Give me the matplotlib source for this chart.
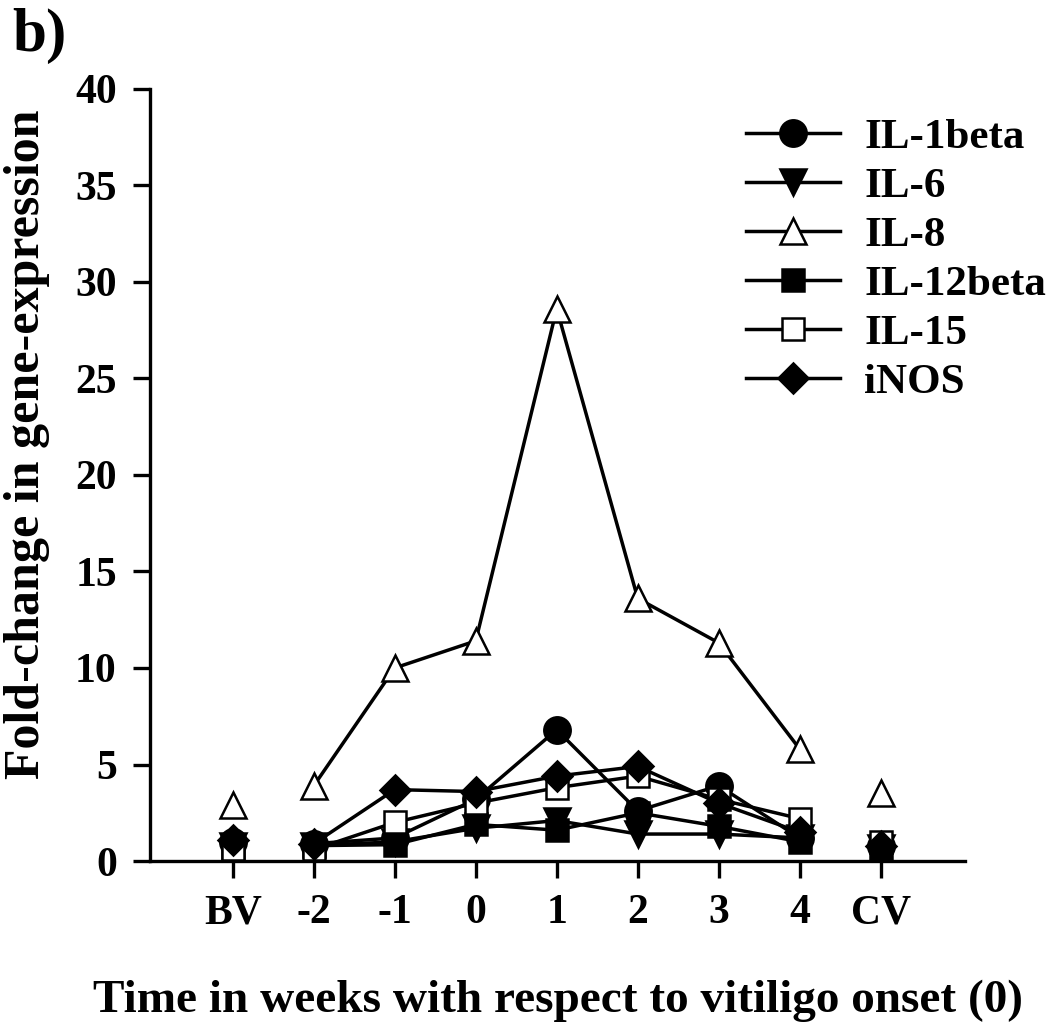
import matplotlib.pyplot as plt
import numpy as np

plt.rcParams['font.family'] = 'Liberation Serif'
plt.rcParams['font.weight'] = 'bold'

categories = ['BV', '-2', '-1', '0', '1', '2', '3', '4', 'CV']

il1beta = [1.0, 0.9, 1.2, 3.2, 6.8, 2.6, 3.9, 1.2, 0.8]
il6 = [0.8, 0.8, 1.0, 1.7, 2.1, 1.4, 1.4, 1.2, 0.7]
il8 = [2.9, 3.9, 10.0, 11.4, 28.6, 13.6, 11.3, 5.8, 3.5]
il12beta = [0.3, 0.8, 0.85, 1.9, 1.6, 2.5, 1.8, 1.0, 0.7]
il15 = [0.6, 0.6, 2.0, 3.0, 3.8, 4.4, 3.2, 2.2, 1.0]
inos = [1.1, 0.9, 3.7, 3.6, 4.4, 4.9, 3.0, 1.5, 0.8]

series = [
    ('IL-1beta', il1beta, 'o', 'black', 19),
    ('IL-6', il6, 'v', 'black', 19),
    ('IL-8', il8, '^', 'white', 19),
    ('IL-12beta', il12beta, 's', 'black', 16),
    ('IL-15', il15, 's', 'white', 16),
    ('iNOS', inos, 'D', 'black', 15),
]

x = np.arange(len(categories))

fig = plt.figure(figsize=(10.5, 10.3), dpi=100)
ax = fig.add_axes([0.143, 0.164, 0.776, 0.750])

for name, vals, mk, fc, ms in series:
    # weeks -2..4 are joined, BV and CV stand alone
    ax.plot(x[1:8], vals[1:8], color='black', lw=2.5, marker=mk, ms=ms,
            mfc=fc, mec='black', mew=1.8, label=name, zorder=3)
    ax.plot(x[[0, 8]], np.array(vals)[[0, 8]], ls='none', marker=mk, ms=ms,
            mfc=fc, mec='black', mew=1.8, zorder=3)

ax.set_xlim(-1.02, 9.04)
ax.set_ylim(0, 40)
ax.set_xticks(x)
ax.set_xticklabels(categories)
ax.set_yticks(range(0, 41, 5))
ax.tick_params(axis='both', direction='out', length=12, width=2.4, labelsize=30, pad=12)
for s in ['top', 'right']:
    ax.spines[s].set_visible(False)
for s in ['left', 'bottom']:
    ax.spines[s].set_linewidth(2.4)

ax.set_xlabel('Time in weeks with respect to vitiligo onset (0)', fontsize=34,
              fontweight='bold', labelpad=34)
ax.set_ylabel('Fold-change in gene-expression', fontsize=36, fontweight='bold')
ax.yaxis.set_label_coords(-0.123, 0.54)

ax.legend(loc='upper right', bbox_to_anchor=(1.147, 1.012), frameon=False, fontsize=31,
          handlelength=2.2, labelspacing=0.23, handletextpad=0.55)

fig.text(0.012, 0.992, 'b)', fontsize=44, va='top', ha='left')

fig.savefig('out.png', dpi=100)
